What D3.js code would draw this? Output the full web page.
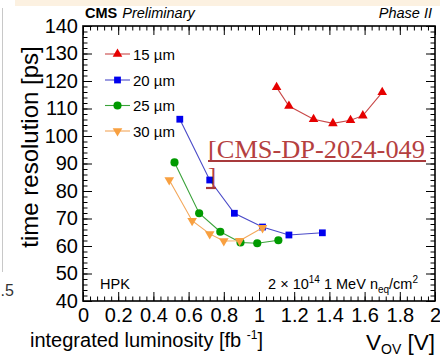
<!DOCTYPE html>
<html>
<head>
<meta charset="utf-8">
<script src="https://cdn.jsdelivr.net/npm/d3@7"></script>
<style>
  html, body { margin: 0; padding: 0; background: #fff; }
  svg { display: block; font-family: "Liberation Sans", Arial, Helvetica, sans-serif; }
</style>
</head>
<body>
<svg id="chart" width="440" height="358"></svg>
<script>
// Time resolution vs. overvoltage for several SiPM cell sizes (HPK, 2e14 neq/cm2)
const xMajorTicks = [0, 0.2, 0.4, 0.6, 0.8, 1, 1.2, 1.4, 1.6, 1.8, 2];
const xTickLabels = ["0", "0.2", "0.4", "0.6", "0.8", "1", "1.2", "1.4", "1.6", "1.8", "2"];
const yMajorTicks = [40, 50, 60, 70, 80, 90, 100, 110, 120, 130, 140];
const yTickLabels = ["40", "50", "60", "70", "80", "90", "100", "110", "120", "130", "140"];

const cellSizes = ["15 µm", "20 µm", "25 µm", "30 µm"];

const vov15 = [1.10, 1.17, 1.31, 1.42, 1.52, 1.59, 1.70];
const res15 = [117.7, 110.9, 106.1, 104.6, 105.7, 107.4, 115.9];

const vov20 = [0.55, 0.72, 0.86, 1.02, 1.17, 1.36];
const res20 = [106.1, 84.0, 71.9, 66.9, 64.0, 64.8];

const vov25 = [0.52, 0.66, 0.78, 0.895, 0.99, 1.11];
const res25 = [90.4, 71.9, 65.2, 61.3, 61.0, 62.1];

const vov30 = [0.49, 0.62, 0.72, 0.80, 0.89, 1.02];
const res30 = [84.0, 69.2, 64.4, 61.8, 61.9, 66.6];

(function () {
const svg = d3.select("#chart");
const W = 440, H = 358;

// page decorations around the figure
svg.append("rect").attr("x", 0).attr("y", 0).attr("width", W).attr("height", H).attr("fill", "#fff");
svg.append("rect").attr("x", 15).attr("y", 0).attr("width", W - 15).attr("height", 6).attr("fill", "#fcf1e1");
svg.append("line").attr("x1", 2.5).attr("x2", 2.5).attr("y1", 8).attr("y2", 272)
  .attr("stroke", "#c8c8c8").attr("stroke-width", 1);
svg.append("text").attr("x", 0.5).attr("y", 296)
  .attr("font-size", 16).attr("fill", "#333").text(".5");

// plot frame
const fL = 83, fR = 435, fT = 26, fB = 301;
const x = d3.scaleLinear().domain([0, 2]).range([fL, fR]);
const y = d3.scaleLinear().domain([40, 140]).range([fB, fT]);

const xMinor = d3.range(0, 2.0001, 0.04);
const yMinor = d3.range(40, 140.001, 2);

function styleAxis(g) {
  g.select(".domain").remove();
  g.selectAll(".tick line").attr("stroke", "#000").attr("stroke-width", 1);
}

// minor ticks (all four sides, pointing inward)
svg.append("g").attr("transform", `translate(0,${fB})`)
  .call(d3.axisBottom(x).tickValues(xMinor).tickSize(-4.5).tickFormat(""))
  .call(styleAxis);
svg.append("g").attr("transform", `translate(0,${fT})`)
  .call(d3.axisTop(x).tickValues(xMinor).tickSize(-4.5).tickFormat(""))
  .call(styleAxis);
svg.append("g").attr("transform", `translate(${fL},0)`)
  .call(d3.axisLeft(y).tickValues(yMinor).tickSize(-4.5).tickFormat(""))
  .call(styleAxis);
svg.append("g").attr("transform", `translate(${fR},0)`)
  .call(d3.axisRight(y).tickValues(yMinor).tickSize(-4.5).tickFormat(""))
  .call(styleAxis);

// major ticks with labels
const xAxis = svg.append("g").attr("transform", `translate(0,${fB})`)
  .call(d3.axisBottom(x).tickValues(xMajorTicks).tickSize(-9).tickPadding(7)
    .tickFormat((d, i) => xTickLabels[i]))
  .call(styleAxis);
xAxis.selectAll("text").attr("font-size", 20).attr("fill", "#000").attr("font-family", "Liberation Sans, Arial, sans-serif");

const yAxis = svg.append("g").attr("transform", `translate(${fL},0)`)
  .call(d3.axisLeft(y).tickValues(yMajorTicks).tickSize(-9).tickPadding(5)
    .tickFormat((d, i) => yTickLabels[i]))
  .call(styleAxis);
yAxis.selectAll("text").attr("font-size", 20).attr("fill", "#000").attr("font-family", "Liberation Sans, Arial, sans-serif");

svg.append("g").attr("transform", `translate(0,${fT})`)
  .call(d3.axisTop(x).tickValues(xMajorTicks).tickSize(-9).tickFormat(""))
  .call(styleAxis);
svg.append("g").attr("transform", `translate(${fR},0)`)
  .call(d3.axisRight(y).tickValues(yMajorTicks).tickSize(-9).tickFormat(""))
  .call(styleAxis);

svg.append("rect").attr("x", fL).attr("y", fT)
  .attr("width", fR - fL).attr("height", fB - fT)
  .attr("fill", "none").attr("stroke", "#000").attr("stroke-width", 1.6);

// data series
const series = [
  { name: cellSizes[1], xs: vov20, ys: res20, color: "#0000ee", line: "#4a4ac8", symbol: d3.symbolSquare, size: 46, rot: 0 },
  { name: cellSizes[2], xs: vov25, ys: res25, color: "#009a00", line: "#3aa23a", symbol: d3.symbolCircle, size: 52, rot: 0 },
  { name: cellSizes[3], xs: vov30, ys: res30, color: "#f8a040", line: "#f3a75a", symbol: d3.symbolTriangle, size: 40, rot: 180 },
  { name: cellSizes[0], xs: vov15, ys: res15, color: "#e60000", line: "#c84848", symbol: d3.symbolTriangle, size: 40, rot: 0 }
];

const line = d3.line().x(d => x(d[0])).y(d => y(d[1]));

series.forEach(s => {
  const pts = s.xs.map((v, i) => [v, s.ys[i]]);
  svg.append("path").datum(pts).attr("d", line)
    .attr("fill", "none").attr("stroke", s.line).attr("stroke-width", 1.1);
  svg.append("g").selectAll("path").data(pts).join("path")
    .attr("d", d3.symbol().type(s.symbol).size(s.size))
    .attr("transform", d => `translate(${x(d[0])},${y(d[1])}) rotate(${s.rot})`)
    .attr("fill", s.color);
});

// legend
const legendOrder = [series[3], series[0], series[1], series[2]];
const legendRows = [54, 80, 105.5, 131];
legendOrder.forEach((s, i) => {
  const ly = legendRows[i];
  svg.append("line").attr("x1", 105).attr("x2", 130).attr("y1", ly).attr("y2", ly)
    .attr("stroke", s.line).attr("stroke-width", 1.1);
  svg.append("path").attr("d", d3.symbol().type(s.symbol).size(s.size))
    .attr("transform", `translate(117.5,${ly}) rotate(${s.rot})`).attr("fill", s.color);
  svg.append("text").attr("x", 133).attr("y", ly + 5.5).attr("font-size", 15).attr("fill", "#000").text(s.name);
});

// header
const hdr = svg.append("text").attr("x", 85).attr("y", 18).attr("font-size", 14.5).attr("fill", "#000");
hdr.append("tspan").attr("font-weight", "bold").text("CMS");
hdr.append("tspan").attr("font-style", "italic").attr("dx", 5).text("Preliminary");
svg.append("text").attr("x", 432).attr("y", 18).attr("text-anchor", "end")
  .attr("font-size", 14.5).attr("font-style", "italic").attr("fill", "#000").text("Phase II");

// in-frame annotations
svg.append("text").attr("x", 100).attr("y", 289).attr("font-size", 14.5).attr("fill", "#000").text("HPK");
const flu = svg.append("text").attr("x", 418).attr("y", 289).attr("text-anchor", "end")
  .attr("font-size", 14.5).attr("fill", "#000");
flu.append("tspan").text("2 × 10");
flu.append("tspan").attr("font-size", 10).attr("dy", -6).text("14");
flu.append("tspan").attr("dy", 6).text(" 1 MeV n");
flu.append("tspan").attr("font-size", 10).attr("dy", 4).text("eq");
flu.append("tspan").attr("dy", -4).text("/cm");
flu.append("tspan").attr("font-size", 10).attr("dy", -6).text("2");

// axis titles
svg.append("text").attr("transform", "translate(38,147) rotate(-90)")
  .attr("text-anchor", "middle").attr("font-size", 24).attr("fill", "#000")
  .text("time resolution [ps]");

const xt = svg.append("text").attr("x", 435).attr("y", 350).attr("text-anchor", "end")
  .attr("font-size", 22.5).attr("fill", "#000");
xt.append("tspan").text("V");
xt.append("tspan").attr("font-size", 14).attr("dy", 4).text("OV");
xt.append("tspan").attr("dy", -4).text(" [V]");

const lum = svg.append("text").attr("x", 30).attr("y", 347).attr("font-size", 20).attr("fill", "#000");
lum.append("tspan").text("integrated luminosity [fb ");
lum.append("tspan").attr("font-size", 12).attr("dy", -8).text("-1");
lum.append("tspan").attr("dy", 8).text("]");

// reference link
const linkColor = "#b5403f";
svg.append("text").attr("x", 208).attr("y", 158)
  .attr("font-family", "Liberation Serif, Times New Roman, serif").attr("font-size", 24.5)
  .attr("fill", linkColor).attr("textLength", 217).attr("lengthAdjust", "spacingAndGlyphs")
  .text("[CMS-DP-2024-049");
svg.append("line").attr("x1", 208).attr("x2", 426).attr("y1", 161).attr("y2", 161)
  .attr("stroke", "#a83a3c").attr("stroke-width", 2.2);
svg.append("text").attr("x", 208).attr("y", 185)
  .attr("font-family", "Liberation Serif, Times New Roman, serif").attr("font-size", 24.5)
  .attr("fill", linkColor).text("]");
svg.append("line").attr("x1", 206).attr("x2", 216).attr("y1", 188).attr("y2", 188)
  .attr("stroke", "#a83a3c").attr("stroke-width", 2.2);
})();
</script>
</body>
</html>
